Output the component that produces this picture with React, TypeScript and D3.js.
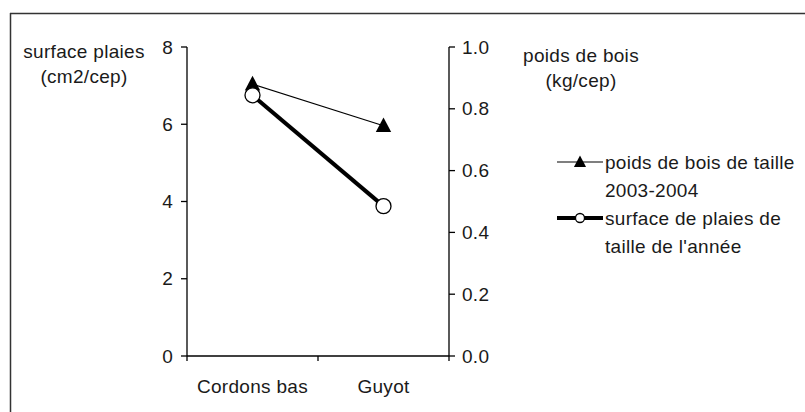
import React from "react";
import * as d3 from "d3";

const categories = ["Cordons bas", "Guyot"];
const surfacePlaies = [6.75, 3.88]; // left axis, cm2/cep
const poidsBois = [0.88, 0.745]; // right axis, kg/cep
const leftTicks = [0, 2, 4, 6, 8];
const rightTicks = [0, 0.2, 0.4, 0.6, 0.8, 1.0];
const legendLabels = [
  ["poids de bois de taille", "2003-2004"],
  ["surface de plaies de", "taille de l'année"],
];

const W = 805;
const H = 412;
const FONT = "'Liberation Sans', Arial, sans-serif";
const FS = 19;
const LS = 0.3;

export default function App() {
  const x0 = 187;
  const x1 = 449;
  const yTop = 47;
  const yBot = 356;
  const band = d3.scaleBand<string>().domain(categories).range([x0, x1]).padding(0);
  const xc = (c: string) => (band(c) as number) + band.bandwidth() / 2;
  const yL = d3.scaleLinear().domain([0, 8]).range([yBot, yTop]);
  const yR = d3.scaleLinear().domain([0, 1]).range([yBot, yTop]);

  const lineL = d3
    .line<number>()
    .x((_, i) => xc(categories[i]))
    .y((d) => yL(d));
  const lineR = d3
    .line<number>()
    .x((_, i) => xc(categories[i]))
    .y((d) => yR(d));

  const tri = (cx: number, cy: number, s: number) =>
    `M${cx},${cy - s * 0.6}L${cx + s * 0.55},${cy + s * 0.45}L${cx - s * 0.55},${cy + s * 0.45}Z`;

  const txt = {
    fontFamily: FONT,
    fontSize: FS,
    letterSpacing: LS,
    fill: "#1a1a1a",
  } as React.CSSProperties;

  const lgX0 = 557;
  const lgX1 = 603;
  const lgMid = (lgX0 + lgX1) / 2;

  return (
    <div style={{ position: "absolute", left: 0, top: 0 }}>
      <svg width={W} height={H} style={{ display: "block", background: "#fff" }}>
        {/* outer frame */}
        <line x1={10} x2={W} y1={13.5} y2={13.5} stroke="#333" strokeWidth={1.5} />
        <line x1={10.5} x2={10.5} y1={13} y2={H} stroke="#333" strokeWidth={1.5} />

        {/* left axis */}
        <line x1={x0} x2={x0} y1={yTop} y2={yBot} stroke="#000" strokeWidth={1.3} />
        {leftTicks.map((t) => (
          <g key={"l" + t}>
            <line x1={x0 - 6} x2={x0} y1={yL(t)} y2={yL(t)} stroke="#000" strokeWidth={1.3} />
            <text x={x0 - 14} y={yL(t)} dy="0.35em" textAnchor="end" style={txt}>
              {t}
            </text>
          </g>
        ))}

        {/* right axis */}
        <line x1={x1} x2={x1} y1={yTop} y2={yBot} stroke="#000" strokeWidth={1.3} />
        {rightTicks.map((t) => (
          <g key={"r" + t}>
            <line x1={x1} x2={x1 + 6} y1={yR(t)} y2={yR(t)} stroke="#000" strokeWidth={1.3} />
            <text x={x1 + 13} y={yR(t)} dy="0.35em" textAnchor="start" style={txt}>
              {t.toFixed(1)}
            </text>
          </g>
        ))}

        {/* x axis */}
        <line x1={x0} x2={x1} y1={yBot} y2={yBot} stroke="#000" strokeWidth={1.3} />
        {[...categories.map((c) => band(c) as number), x1].map((v, i) => (
          <line key={"xt" + i} x1={v} x2={v} y1={yBot} y2={yBot + 5} stroke="#000" strokeWidth={1.3} />
        ))}
        {categories.map((c) => (
          <text key={c} x={xc(c)} y={386} dy="0.35em" textAnchor="middle" style={txt}>
            {c}
          </text>
        ))}

        {/* axis titles */}
        <text x={84} y={51} dy="0.35em" textAnchor="middle" style={txt}>
          surface plaies
        </text>
        <text x={84} y={76} dy="0.35em" textAnchor="middle" style={txt}>
          (cm2/cep)
        </text>
        <text x={581} y={55} dy="0.35em" textAnchor="middle" style={txt}>
          poids de bois
        </text>
        <text x={581} y={80} dy="0.35em" textAnchor="middle" style={txt}>
          (kg/cep)
        </text>

        {/* series: poids de bois (thin, triangles) */}
        <path d={lineR(poidsBois) || ""} fill="none" stroke="#000" strokeWidth={1.2} />
        {/* series: surface plaies (thick, circles) */}
        <path d={lineL(surfacePlaies) || ""} fill="none" stroke="#000" strokeWidth={4} />
        {poidsBois.map((v, i) => (
          <path key={"t" + i} d={tri(xc(categories[i]), yR(v), 14)} fill="#000" />
        ))}
        {surfacePlaies.map((v, i) => (
          <circle key={"c" + i} cx={xc(categories[i])} cy={yL(v)} r={7.5} fill="#fff" stroke="#000" strokeWidth={1.3} />
        ))}

        {/* legend */}
        <line x1={lgX0} x2={lgX1} y1={162} y2={162} stroke="#000" strokeWidth={1.2} />
        <path d={tri(lgMid, 162, 11)} fill="#000" />
        <text x={605} y={162} dy="0.35em" style={txt}>
          {legendLabels[0][0]}
        </text>
        <text x={605} y={190} dy="0.35em" style={txt}>
          {legendLabels[0][1]}
        </text>
        <line x1={lgX0} x2={lgX1} y1={218} y2={218} stroke="#000" strokeWidth={4} />
        <circle cx={lgMid} cy={218} r={4.5} fill="#fff" stroke="#000" strokeWidth={1.3} />
        <text x={605} y={218} dy="0.35em" style={txt}>
          {legendLabels[1][0]}
        </text>
        <text x={605} y={246} dy="0.35em" style={txt}>
          {legendLabels[1][1]}
        </text>
      </svg>
    </div>
  );
}
